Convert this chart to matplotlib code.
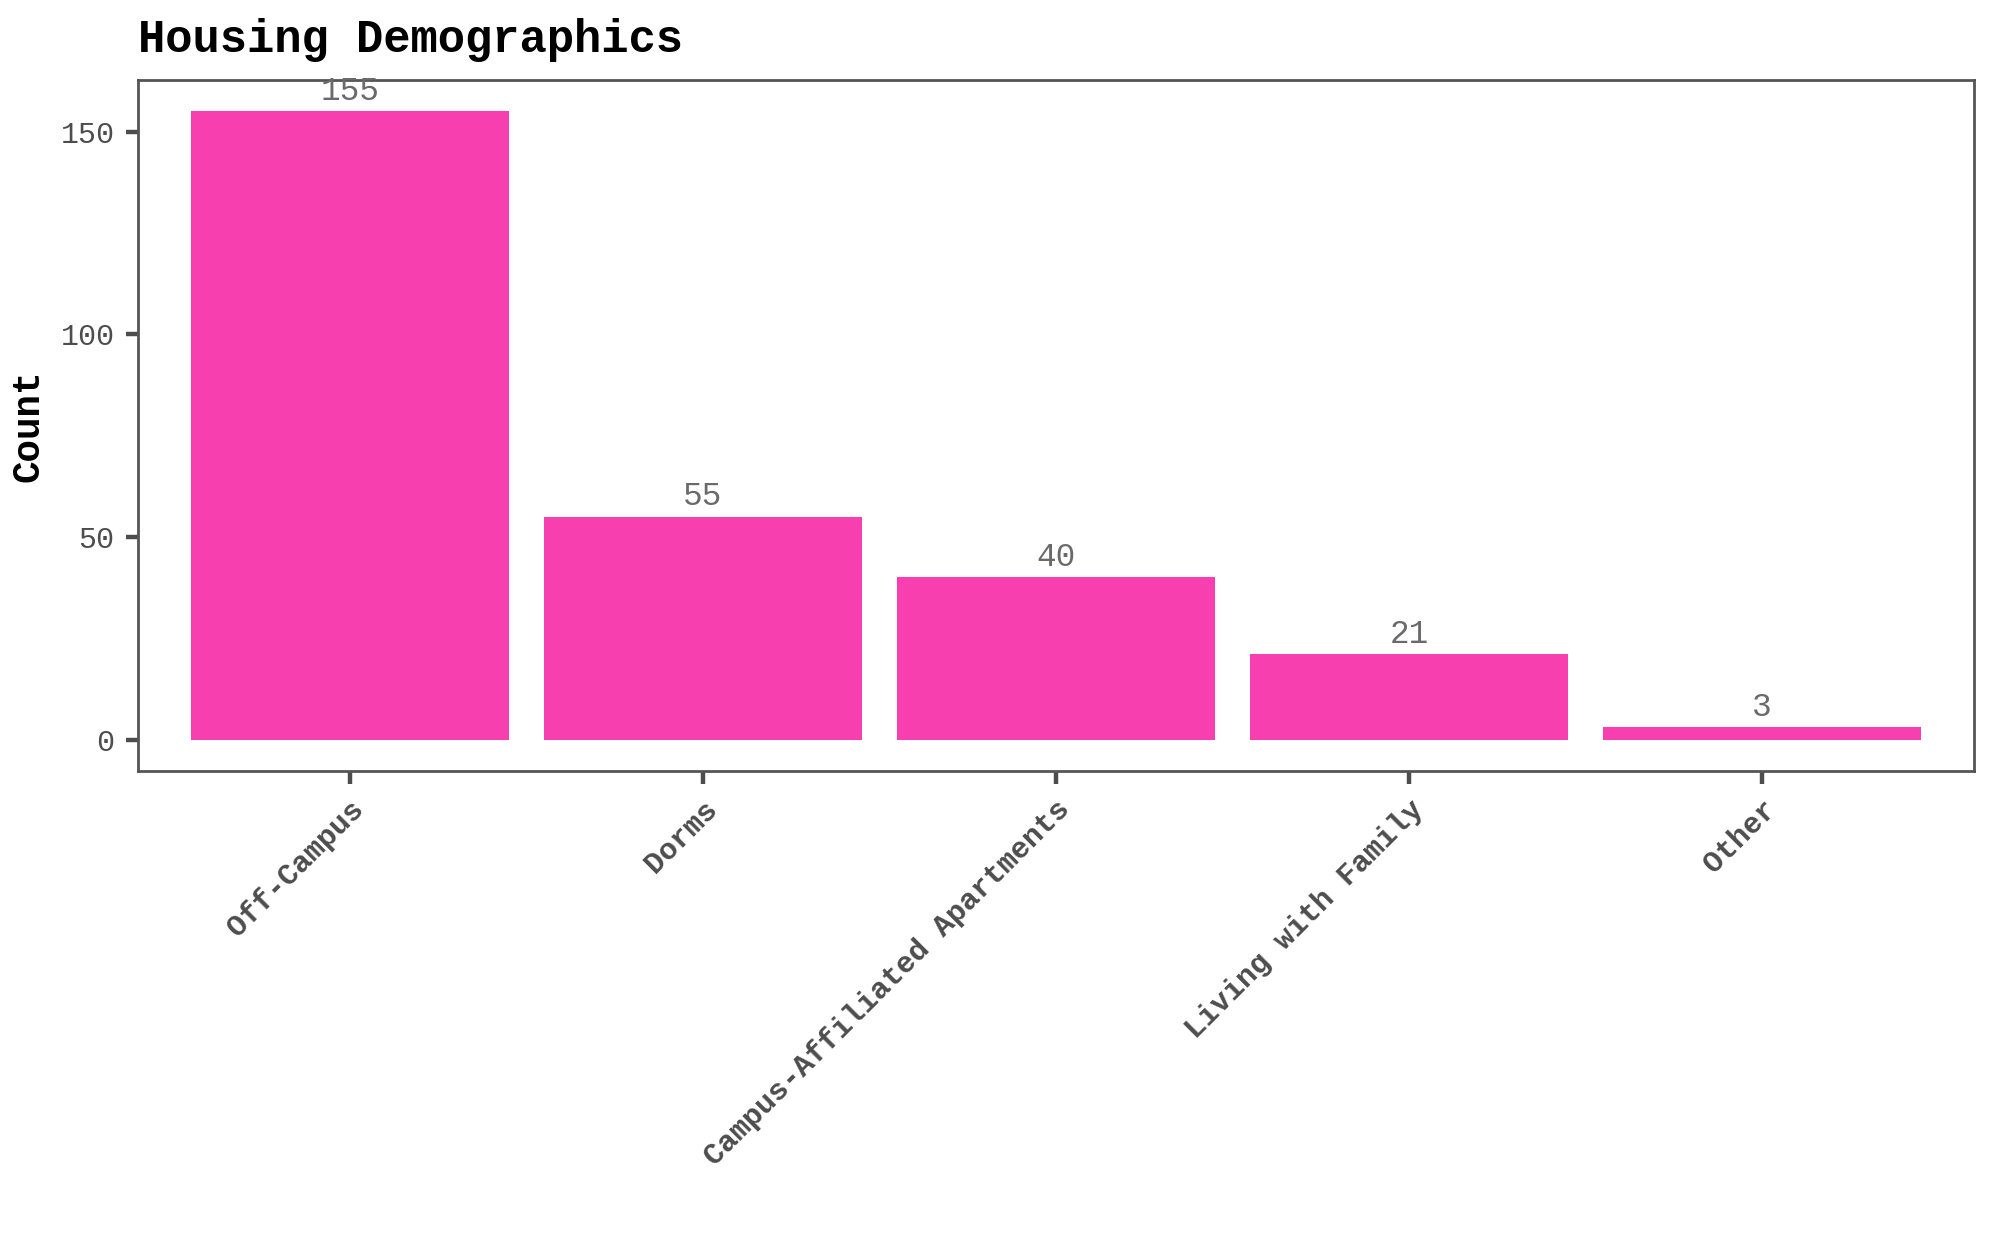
import matplotlib
matplotlib.use("Agg")
import matplotlib.pyplot as plt

categories = ["Off-Campus", "Dorms", "Campus-Affiliated Apartments", "Living with Family", "Other"]
counts = [155, 55, 40, 21, 3]

plt.rcParams["font.family"] = ["Liberation Mono", "DejaVu Sans Mono"]

fig = plt.figure(figsize=(1999 / 200, 1235 / 200), dpi=200)
ax = fig.add_axes([138 / 1999, 1 - 771 / 1235, (1974 - 138) / 1999, (771 - 80) / 1235])

x = range(len(categories))
ax.bar(x, counts, width=0.9, color="#F73FAF")
for xi, c in zip(x, counts):
    ax.text(xi, c + 1.2, str(c), ha="center", va="bottom", fontsize=11.8, color="#6A6A6A")

ax.set_xlim(-0.6, len(categories) - 0.4)
ax.set_ylim(-7.75, 162.75)
ax.set_yticks([0, 50, 100, 150])
ax.set_xticks(list(x))
ax.set_xticklabels(categories, rotation=45, ha="right", rotation_mode="anchor",
                   fontsize=10.8, fontweight="bold", color="#4D4D4D")
for lab in ax.get_yticklabels():
    lab.set_fontsize(10.8)
    lab.set_color("#4D4D4D")
ax.tick_params(axis="both", length=4.5, width=1.6, color="#4D4D4D", pad=4)
for s in ax.spines.values():
    s.set_color("#555555")
    s.set_linewidth(1.0)

ax.set_ylabel("Count", fontsize=13.5, fontweight="bold", color="black", labelpad=5)
ax.set_xlabel("")
fig.text(138 / 1999, 1 - 52 / 1235, "Housing Demographics", fontsize=16.4, fontweight="bold",
         ha="left", va="baseline")

fig.savefig("out.png", dpi=200, facecolor="white")
